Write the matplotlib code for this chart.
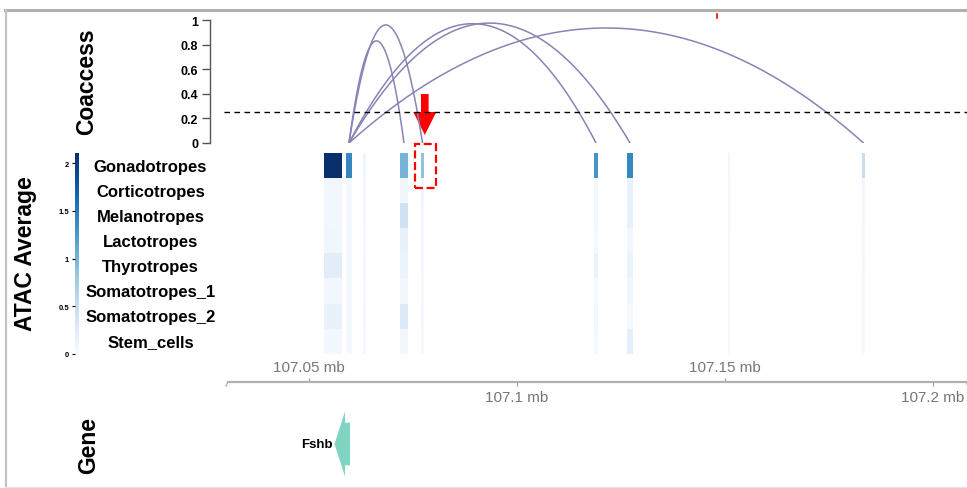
import numpy as np
import matplotlib
matplotlib.use("Agg")
import matplotlib.pyplot as plt
from matplotlib.lines import Line2D
from matplotlib.patches import Polygon, Rectangle, FancyArrow
from matplotlib.cm import ScalarMappable
from matplotlib.colors import Normalize

plt.rcParams['font.family'] = ['Liberation Sans', 'DejaVu Sans']

# ---------------- data ----------------
cell_types = ["Gonadotropes", "Corticotropes", "Melanotropes", "Lactotropes",
              "Thyrotropes", "Somatotropes_1", "Somatotropes_2", "Stem_cells"]

peak_start = [107.05370, 107.05899, 107.06308, 107.07197, 107.07702,
              107.11861, 107.12654, 107.15082, 107.18303]
peak_end = [107.05803, 107.06043, 107.06380, 107.07389, 107.07774,
            107.11957, 107.12798, 107.15130, 107.18375]

# ATAC average per peak (rows follow cell_types)
atac_A = [2.10, 0.06, 0.07, 0.09, 0.23, 0.06, 0.15, 0.05]
atac_B = [1.40, 0.04, 0.04, 0.03, 0.04, 0.03, 0.04, 0.03]
atac_C = [0.08, 0.06, 0.06, 0.05, 0.06, 0.05, 0.06, 0.05]
atac_D = [1.00, 0.09, 0.43, 0.15, 0.13, 0.06, 0.29, 0.07]
atac_E = [0.87, 0.08, 0.06, 0.05, 0.05, 0.04, 0.05, 0.04]
atac_F = [1.30, 0.05, 0.05, 0.04, 0.14, 0.04, 0.05, 0.04]
atac_G = [1.40, 0.15, 0.16, 0.06, 0.12, 0.08, 0.04, 0.20]
atac_H = [0.06, 0.05, 0.05, 0.04, 0.04, 0.04, 0.04, 0.04]
atac_I = [0.50, 0.07, 0.07, 0.05, 0.06, 0.05, 0.05, 0.05]
atac_values = [atac_A, atac_B, atac_C, atac_D, atac_E, atac_F, atac_G, atac_H, atac_I]
atac_max = 2.107

# co-accessibility links
link_start = [107.05971, 107.05971, 107.05971, 107.05971, 107.05971]
link_end = [107.07293, 107.07738, 107.11909, 107.12726, 107.18339]
link_score = [0.83, 0.96, 0.97, 0.975, 0.935]
coaccess_cutoff = 0.25

coaccess_ticks = [0, 0.2, 0.4, 0.6, 0.8, 1]
coaccess_ticklabels = ["0", "0.2", "0.4", "0.6", "0.8", "1"]
cbar_ticks = [0, 0.5, 1, 1.5, 2]
cbar_ticklabels = ["0", "0.5", "1", "1.5", "2"]

axis_ticks_top = [107.05, 107.15]
axis_ticks_bottom = [107.10, 107.20]

gene_name = "Fshb"
gene_start = 107.05623
gene_end = 107.05995
gene_head = 107.05875   # where arrow head meets body (minus strand)

highlight_peak = 107.07738

# ---------------- layout helpers ----------------
W, H = 967, 489
X0, MB0, PPM = 308.6, 107.05, 4160.0


def rect(l, t, r, b):
    return [l / W, 1 - b / H, (r - l) / W, (b - t) / H]


def mbx(px):
    return MB0 + (px - X0) / PPM


fig = plt.figure(figsize=(W / 100, H / 100), dpi=100)

# ---------------- frame ----------------
fig.add_artist(Line2D([5 / W, 1], [1 - 10.5 / H] * 2, color="#b0b0b0", lw=2.2))
fig.add_artist(Line2D([5.5 / W] * 2, [1 - 10.5 / H, 1 - 488 / H], color="#c4c4c4", lw=1.6))
fig.add_artist(Line2D([5 / W, 1], [1 - 487.5 / H] * 2, color="#e6e6e6", lw=1.0))

# ---------------- Coaccess track ----------------
axc = fig.add_axes(rect(210, 21, 967, 144))
axc.set_xlim(mbx(210), mbx(967))
axc.set_ylim(0, 1)
for s in ["top", "right", "bottom"]:
    axc.spines[s].set_visible(False)
axc.spines["left"].set_color("#555555")
axc.spines["left"].set_linewidth(1.0)
axc.set_xticks([])
axc.set_yticks(coaccess_ticks)
axc.set_yticklabels(coaccess_ticklabels, fontsize=9, fontweight="bold")
axc.tick_params(axis="y", length=5.5, width=1.0, color="#555555", pad=3)

t = np.linspace(0, 1, 200)
for s0, e0, h in zip(link_start, link_end, link_score):
    xs = s0 + (e0 - s0) * t
    ys = h * 4 * t * (1 - t)
    axc.plot(xs, ys, color="#8784b6", lw=1.1, solid_capstyle="round")

axc.plot([mbx(224), mbx(967)], [coaccess_cutoff] * 2, color="black", lw=1.0,
         dashes=(4, 3.2))

# red arrow pointing at the highlighted peak
axc.add_patch(FancyArrow(highlight_peak + 2.3 / PPM, (144 - 95) / 123, 0, -(136 - 95) / 123,
                         width=7.6 / PPM, head_width=23 / PPM, head_length=23 / 123,
                         length_includes_head=True, color="#ff0000", lw=0))
axc.plot([mbx(716.5)] * 2, [1.016, 1.045], color="#ff0000", lw=1.2, clip_on=False)

fig.text(87 / W, 1 - 82 / H, "Coaccess", rotation=90, ha="center", va="center",
         fontsize=16.5, fontweight="bold")

# ---------------- ATAC heatmap ----------------
axh = fig.add_axes(rect(228, 153.5, 967, 355))
axh.set_xlim(mbx(228), mbx(967))
axh.set_ylim(len(cell_types), 0)
axh.axis("off")
norm = Normalize(0, atac_max)
cmap = plt.get_cmap("Blues")
yedges = np.arange(len(cell_types) + 1)
for ps, pe, vals in zip(peak_start, peak_end, atac_values):
    axh.pcolormesh([ps, pe], yedges, np.array(vals).reshape(-1, 1), cmap=cmap, norm=norm,
                   shading="flat", edgecolors="none")

# dashed highlight box
px_per_row = (355 - 153.5) / len(cell_types)
axh.add_patch(Rectangle((mbx(414.5), (189 - 153.5) / px_per_row),
                        (436 - 414.5) / PPM, -(189 - 145) / px_per_row,
                        fill=False, edgecolor="#ff0000", lw=1.6, ls=(0, (3.6, 1.6)),
                        clip_on=False))

for i, ct in enumerate(cell_types):
    fig.text(150.5 / W, 1 - (167.5 + i * 24.95) / H, ct, ha="center", va="center",
             fontsize=12, fontweight="bold")

cax = fig.add_axes(rect(74.5, 154, 78.5, 355))
cb = fig.colorbar(ScalarMappable(norm=norm, cmap=cmap), cax=cax)
cb.outline.set_visible(False)
cax.yaxis.set_ticks_position("left")
cb.set_ticks(cbar_ticks)
cb.set_ticklabels(cbar_ticklabels)
cax.tick_params(axis="y", labelsize=5.5, length=2.5, width=0.8, pad=1.5)
for lab in cax.get_yticklabels():
    lab.set_fontweight("bold")

fig.text(26 / W, 1 - 254 / H, "ATAC Average", rotation=90, ha="center", va="center",
         fontsize=16.5, fontweight="bold")

# ---------------- genome axis ----------------
ylinepx = 383
axlo = fig.add_axes(rect(228, ylinepx, 967, ylinepx + 15))
axhi = fig.add_axes(rect(228, ylinepx - 15, 967, ylinepx))
for a in (axlo, axhi):
    a.set_xlim(mbx(228), mbx(967))
    a.set_yticks([])
    a.patch.set_alpha(0)
    for s in a.spines.values():
        s.set_visible(False)
axhi.spines["bottom"].set_visible(True)
axhi.spines["bottom"].set_color("#b0b0b0")
axhi.spines["bottom"].set_linewidth(1.6)
axlo.xaxis.tick_top()
axlo.set_xticks(axis_ticks_bottom)
axlo.set_xticklabels([f"{v:g} mb" for v in axis_ticks_bottom])
axlo.tick_params(axis="x", direction="in", length=3, width=0.8, color="#999999",
                 labelcolor="#777777", labelsize=11, pad=-16, top=True, bottom=False,
                 labeltop=True, labelbottom=False)
axhi.set_xticks(axis_ticks_top)
axhi.set_xticklabels([f"{v:g} mb" for v in axis_ticks_top])
axhi.tick_params(axis="x", direction="in", length=3, width=0.8, color="#999999",
                 labelcolor="#777777", labelsize=11, pad=-16)
# small end hooks of the axis line
for xe, dx in ((mbx(228), -2 / PPM), (mbx(966), 2 / PPM)):
    axhi.plot([xe, xe + dx], [0, -4 / 15], color="#b0b0b0", lw=1.0, clip_on=False)
axhi.set_xlim(mbx(228), mbx(967))
axhi.set_ylim(0, 1)

# ---------------- gene track ----------------
axg = fig.add_axes(rect(228, 410, 967, 480))
axg.set_xlim(mbx(228), mbx(967))
axg.set_ylim(-1, 1)
axg.axis("off")
head_h, body_h = 0.93, 0.61
axg.add_patch(Polygon([(gene_start, 0), (gene_head, head_h), (gene_head, body_h),
                       (gene_end, body_h), (gene_end, -body_h), (gene_head, -body_h),
                       (gene_head, -head_h)], closed=True, facecolor="#7fd4c2",
                      edgecolor="none"))
axg.text(gene_start - 1.5 / PPM, 0, gene_name, ha="right", va="center", fontsize=9.5,
         fontweight="bold")

fig.text(89 / W, 1 - 446 / H, "Gene", rotation=90, ha="center", va="center",
         fontsize=16.5, fontweight="bold")

fig.savefig("out.png", dpi=100)
